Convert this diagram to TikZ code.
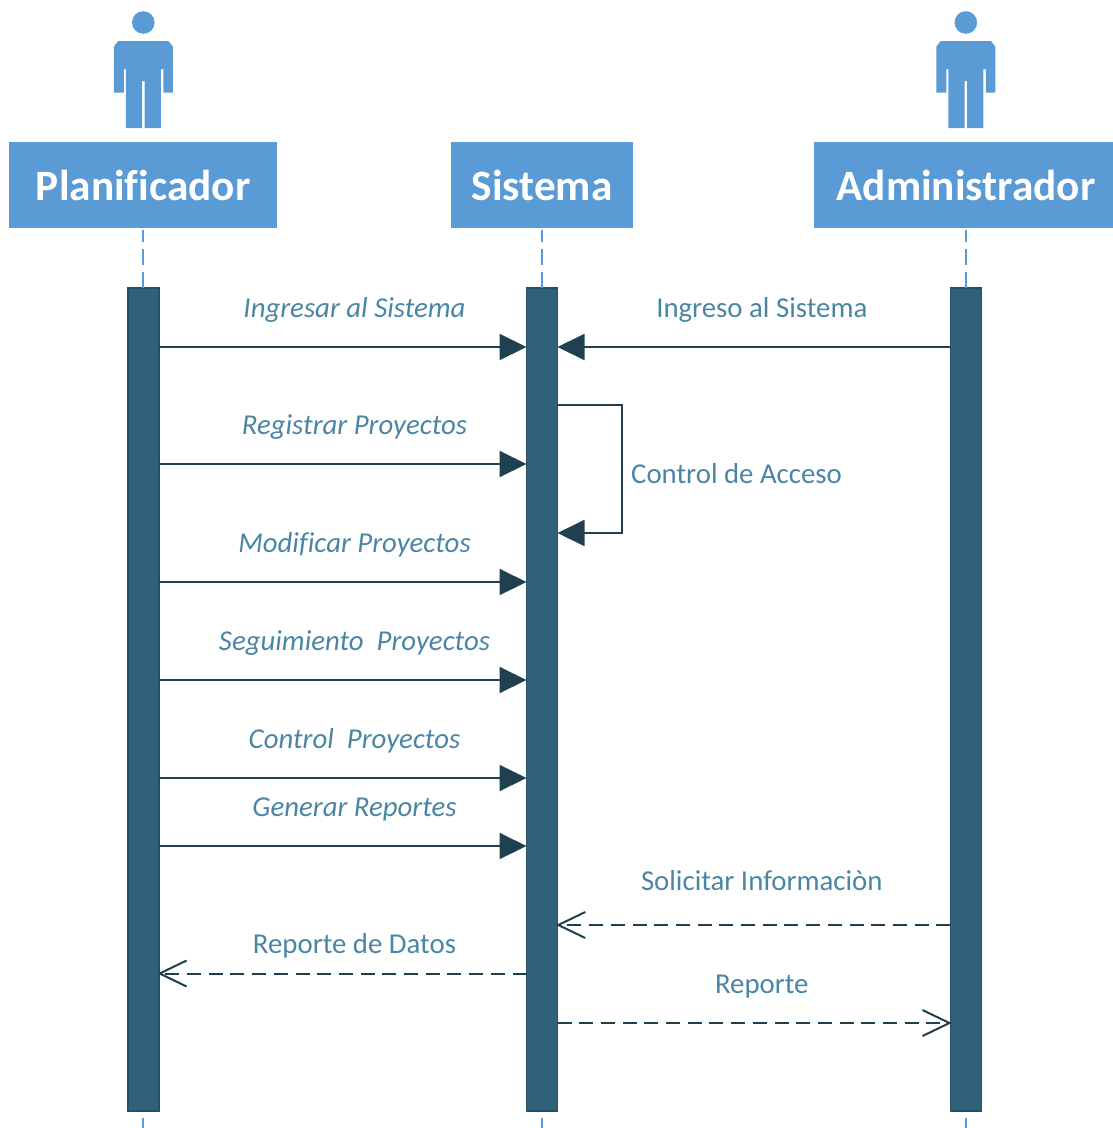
\documentclass[tikz,border=0pt]{standalone}
\usepackage{fontspec}
\setmainfont[Ligatures=CommonOff]{Carlito}
\usetikzlibrary{arrows.meta}
\definecolor{headblue}{HTML}{5B9BD5}
\definecolor{barblue}{HTML}{30617A}
\definecolor{barline}{HTML}{274E62}
\definecolor{msgline}{HTML}{203F4F}
\definecolor{msgtext}{HTML}{4A86A4}
\tikzset{head/.style = {fill = headblue, text = white, inner sep = 0, minimum height = 86, font = \fontsize{43.3}{48}\selectfont\bfseries}}
\tikzset{bar/.style = {fill = barblue, draw = barline, line width = 1.5, inner sep = 0, outer sep = 0, minimum width = 31, minimum height = 823}}
\tikzset{life/.style = {headblue, line width = 2, dash pattern = on 16 off 7}}
\tikzset{msg/.style = {msgline, line width = 2, -{Triangle[length = 27, width = 26]}}}
\tikzset{reply/.style = {msgline, line width = 2, dash pattern = on 14 off 7.7, shorten > = -1.5, -{Straight Barb[length = 27, width = 26, line width = 2]}}}
\tikzset{lab/.style = {text = msgtext, inner sep = 0, font = \fontsize{28.8}{32}\selectfont}}
\tikzset{ilab/.style = {lab, font = \fontsize{28.8}{32}\selectfont\itshape}}
\tikzset{actor/.pic = {
  \fill [headblue] (0, -105.5) circle (11.3);
  \fill [headblue] (-25, -87) -- (25, -87) -- (29.5, -81.5) -- (29.5, -35.5) -- (20, -35.5) -- (20, -59) -- (17.5, -59) -- (17.5, 0)
    -- (1.3, 0) -- (1.3, -47) -- (-1.3, -47) -- (-1.3, 0) -- (-17.5, 0) -- (-17.5, -59) -- (-19.5, -59) -- (-19.5, -35.5) -- (-29.5, -35.5) -- (-29.5, -81.5) -- cycle;
}}

\begin{document}
\begin{tikzpicture}[x=1pt, y=-1pt]
      \useasboundingbox (0, 0) rectangle (1113, 1128);

      \pic at (143.3, 128) {actor};
      \pic at (965.8, 128) {actor};

      \node [head, minimum width = 268] at (143.2, 185) (planificador) {Planificador};
      \node [head, minimum width = 182] at (542, 185) (sistema) {Sistema};
      \node [head, minimum width = 299] at (963.5, 185) (administrador) {\hspace{5pt}Administrador};

      \node [bar] at (143.3, 699.5) (planbar) {};
      \node [bar] at (542, 699.5) (sisbar) {};
      \node [bar] at (965.8, 699.5) (adminbar) {};

      \coordinate (planend) at (143.3, 1128);
      \coordinate (sisend) at (542, 1128);
      \coordinate (adminend) at (965.8, 1128);

      \draw [life, dash phase = 4] (planbar.north |- planificador.south) ++(0, 2) -- (planbar.north);
      \draw [life, dash phase = 4] (sisbar.north |- sistema.south) ++(0, 2) -- (sisbar.north);
      \draw [life, dash phase = 4] (adminbar.north |- administrador.south) ++(0, 2) -- (adminbar.north);
      \draw [life, dash phase = 16] (planbar.south) -- (planend);
      \draw [life, dash phase = 16] (sisbar.south) -- (sisend);
      \draw [life, dash phase = 16] (adminbar.south) -- (adminend);

      % Planificador to Sistema
      \draw [msg] (planbar.east |- 0, 347) -- (sisbar.west |- 0, 347);
      \draw [msg] (planbar.east |- 0, 464) -- (sisbar.west |- 0, 464);
      \draw [msg] (planbar.east |- 0, 582) -- (sisbar.west |- 0, 582);
      \draw [msg] (planbar.east |- 0, 680) -- (sisbar.west |- 0, 680);
      \draw [msg] (planbar.east |- 0, 778) -- (sisbar.west |- 0, 778);
      \draw [msg] (planbar.east |- 0, 846) -- (sisbar.west |- 0, 846);

      \node [ilab] at (354.5, 310) (ingresar) {Ingresar al Sistema};
      \node [ilab] at (354.5, 427) (registrar) {Registrar Proyectos};
      \node [ilab] at (354.5, 545) (modificar) {Modificar Proyectos};
      \node [ilab] at (354.5, 643) (seguimiento) {Seguimiento\ \ Proyectos};
      \node [ilab] at (354.5, 741) (control) {Control\ \ Proyectos};
      \node [ilab] at (354.5, 809) (generar) {Generar Reportes};

      % Administrador and Sistema
      \draw [msg] (adminbar.west |- 0, 347) -- (sisbar.east |- 0, 347);
      \draw [msg] (sisbar.east |- 0, 405) -- (622, 405) -- (622, 533) -- (sisbar.east |- 0, 533);
      \draw [reply] (adminbar.west |- 0, 925) -- (sisbar.east |- 0, 925);
      \draw [reply] (sisbar.west |- 0, 973.5) -- (planbar.east |- 0, 973.5);
      \draw [reply] (sisbar.east |- 0, 1023) -- (adminbar.west |- 0, 1023);

      \node [lab] at (761.8, 310) (ingreso) {Ingreso al Sistema};
      \node [lab, anchor = west] at (631, 473.5) (acceso) {Control de Acceso};
      \node [lab] at (761.8, 881) (solicitar) {Solicitar Informaciòn};
      \node [lab] at (354.5, 946) (datos) {Reporte de Datos};
      \node [lab] at (761.8, 987) (reporte) {Reporte};
    \end{tikzpicture}
\end{document}
